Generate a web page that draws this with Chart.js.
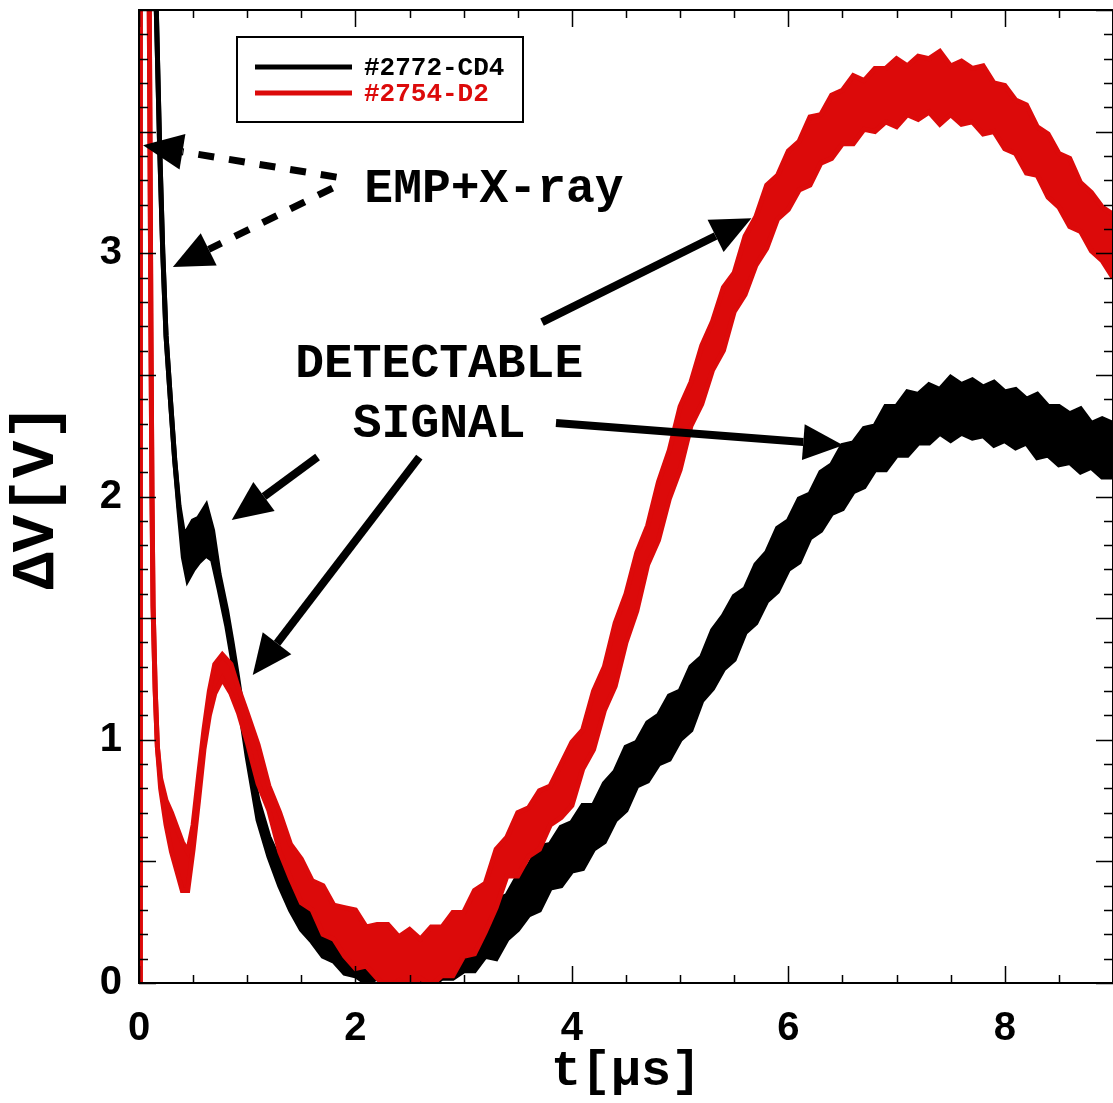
<!DOCTYPE html>
<html>
<head>
<meta charset="utf-8">
<script src="https://cdn.jsdelivr.net/npm/chart.js@4.4.1/dist/chart.umd.min.js"></script>
<style>
html, body { margin: 0; padding: 0; background: #fff; }
</style>
</head>
<body>
<canvas id="scopeChart" width="1113" height="1103"></canvas>
<script>
// values (t in us, dV in V)
const seriesNames = ['#2772-CD4', '#2754-D2'];
const xTickLabels = [0, 2, 4, 6, 8];
const yTickLabels = [0, 1, 2, 3];

const redTime = [0, 0.01, 0.012, 0.09, 0.1, 0.11, 0.12, 0.13, 0.15, 0.17, 0.2, 0.25, 0.3, 0.35, 0.4, 0.45, 0.5, 0.55, 0.6, 0.65, 0.7, 0.77, 0.85, 0.92,
  1.0, 1.1, 1.2, 1.3, 1.4, 1.5, 1.6, 1.7, 1.8, 1.9,
  2.0, 2.1, 2.2, 2.3, 2.4, 2.5, 2.6, 2.7, 2.8, 2.9,
  3.0, 3.1, 3.2, 3.3, 3.4, 3.5, 3.6, 3.7, 3.8, 3.9,
  4.0, 4.1, 4.2, 4.3, 4.4, 4.5, 4.6, 4.7, 4.8, 4.9,
  5.0, 5.1, 5.2, 5.3, 5.4, 5.5, 5.6, 5.7, 5.8, 5.9,
  6.0, 6.1, 6.2, 6.3, 6.4, 6.5, 6.6, 6.7, 6.8, 6.9,
  7.0, 7.1, 7.2, 7.3, 7.4, 7.5, 7.6, 7.7, 7.8, 7.9,
  8.0, 8.1, 8.2, 8.3, 8.4, 8.5, 8.6, 8.7, 8.8, 8.9, 9.0];
const redLevel = [0, 0, 4.4, 4.4, 3.6, 2.7, 2.0, 1.55, 1.2, 0.97, 0.82, 0.7, 0.62, 0.55, 0.48, 0.46, 0.6, 0.8, 1.0, 1.15, 1.25, 1.3, 1.25, 1.16,
  1.05, 0.9, 0.76, 0.62, 0.5, 0.42, 0.36, 0.3, 0.25, 0.21,
  0.18, 0.15, 0.13, 0.11, 0.1, 0.1, 0.1, 0.11, 0.13, 0.16,
  0.2, 0.25, 0.31, 0.43, 0.52, 0.57, 0.62, 0.67, 0.73, 0.79,
  0.86, 0.96, 1.08, 1.21, 1.35, 1.5, 1.65, 1.8, 1.94, 2.09,
  2.24, 2.38, 2.5, 2.62, 2.73, 2.84, 2.95, 3.05, 3.15, 3.23,
  3.3, 3.36, 3.42, 3.47, 3.52, 3.56, 3.59, 3.61, 3.63, 3.65,
  3.66, 3.67, 3.68, 3.69, 3.68, 3.67, 3.66, 3.65, 3.63, 3.6,
  3.56, 3.52, 3.47, 3.42, 3.36, 3.3, 3.25, 3.19, 3.13, 3.08, 3.03];
// half height of the noise band
const redNoise = [0, 0, 0, 0, 0, 0, 0, 0, 0, 0, 0.02, 0.05, 0.08, 0.09, 0.1, 0.08, 0.05, 0.05, 0.04, 0.05, 0.06, 0.05, 0.06, 0.05,
  0.06, 0.08, 0.05, 0.08, 0.07, 0.09, 0.06, 0.1, 0.07, 0.1,
  0.12, 0.08, 0.11, 0.13, 0.09, 0.12, 0.08, 0.12, 0.1, 0.13,
  0.09, 0.13, 0.1, 0.12, 0.08, 0.13, 0.1, 0.12, 0.08, 0.11,
  0.13, 0.08, 0.12, 0.09, 0.13, 0.1, 0.12, 0.08, 0.12, 0.1,
  0.13, 0.09, 0.12, 0.1, 0.13, 0.08, 0.12, 0.1, 0.13, 0.09,
  0.12, 0.1, 0.14, 0.1, 0.13, 0.11, 0.14, 0.1, 0.13, 0.11,
  0.14, 0.1, 0.13, 0.11, 0.15, 0.1, 0.13, 0.11, 0.14, 0.1,
  0.13, 0.11, 0.14, 0.1, 0.13, 0.11, 0.14, 0.1, 0.12, 0.11, 0.13];

const blackTime = [0.14, 0.16, 0.19, 0.22, 0.25, 0.29, 0.33, 0.37, 0.41, 0.45, 0.5, 0.55, 0.62, 0.68, 0.74, 0.81, 0.86, 0.91, 0.96, 1.0, 1.05, 1.1,
  1.2, 1.3, 1.4, 1.5, 1.6, 1.7, 1.8, 1.9,
  2.0, 2.1, 2.2, 2.3, 2.4, 2.5, 2.6, 2.7, 2.8, 2.9,
  3.0, 3.1, 3.2, 3.3, 3.4, 3.5, 3.6, 3.7, 3.8, 3.9,
  4.0, 4.1, 4.2, 4.3, 4.4, 4.5, 4.6, 4.7, 4.8, 4.9,
  5.0, 5.1, 5.2, 5.3, 5.4, 5.5, 5.6, 5.7, 5.8, 5.9,
  6.0, 6.1, 6.2, 6.3, 6.4, 6.5, 6.6, 6.7, 6.8, 6.9,
  7.0, 7.1, 7.2, 7.3, 7.4, 7.5, 7.6, 7.7, 7.8, 7.9,
  8.0, 8.1, 8.2, 8.3, 8.4, 8.5, 8.6, 8.7, 8.8, 8.9, 9.0];
const blackLevel = [4.4, 4.0, 3.45, 3.0, 2.66, 2.4, 2.15, 1.95, 1.8, 1.76, 1.8, 1.82, 1.86, 1.8, 1.65, 1.5, 1.37, 1.23, 1.08, 0.96, 0.83, 0.71,
  0.56, 0.45, 0.36, 0.29, 0.23, 0.19, 0.16, 0.13,
  0.11, 0.1, 0.09, 0.08, 0.08, 0.08, 0.08, 0.09, 0.1, 0.12,
  0.14, 0.16, 0.19, 0.22, 0.27, 0.33, 0.38, 0.43, 0.48, 0.52,
  0.56, 0.6, 0.64, 0.7, 0.77, 0.84, 0.9, 0.95, 1.0, 1.05,
  1.1, 1.17, 1.25, 1.33, 1.4, 1.46, 1.53, 1.6, 1.67, 1.74,
  1.8, 1.86, 1.92, 1.98, 2.03, 2.08, 2.12, 2.16, 2.2, 2.24,
  2.27, 2.3, 2.32, 2.34, 2.35, 2.36, 2.36, 2.36, 2.35, 2.34,
  2.33, 2.32, 2.31, 2.29, 2.27, 2.25, 2.24, 2.23, 2.21, 2.2, 2.19];
const blackNoise = [0, 0, 0, 0, 0, 0, 0, 0.01, 0.05, 0.1, 0.1, 0.09, 0.1, 0.06, 0.03, 0.03, 0.03, 0.03, 0.03, 0.03, 0.03, 0.04,
  0.04, 0.05, 0.06, 0.07, 0.06, 0.08, 0.07, 0.09,
  0.08, 0.1, 0.07, 0.1, 0.09, 0.11, 0.08, 0.1, 0.08, 0.1,
  0.09, 0.11, 0.08, 0.12, 0.09, 0.11, 0.1, 0.13, 0.09, 0.12,
  0.1, 0.13, 0.09, 0.12, 0.1, 0.13, 0.09, 0.12, 0.1, 0.13,
  0.1, 0.13, 0.09, 0.12, 0.11, 0.13, 0.09, 0.12, 0.1, 0.13,
  0.1, 0.13, 0.09, 0.12, 0.1, 0.13, 0.1, 0.12, 0.09, 0.13,
  0.1, 0.13, 0.1, 0.12, 0.09, 0.13, 0.1, 0.12, 0.1, 0.13,
  0.1, 0.12, 0.09, 0.13, 0.1, 0.12, 0.1, 0.13, 0.09, 0.12, 0.11];

const RED = '#dc0a0a';
const BLACK = '#000000';

// lower / upper edge of a noisy trace
function band(times, level, noise, sign) {
  return times.map((t, i) => ({ x: t, y: level[i] + sign * noise[i] }));
}

function traceSets(times, level, noise, color) {
  const common = { borderColor: color, backgroundColor: color, borderWidth: 5, pointRadius: 0, borderJoinStyle: 'miter' };
  return [
    Object.assign({ data: band(times, level, noise, -1), fill: false }, common),
    Object.assign({ data: band(times, level, noise, 1), fill: '-1' }, common)
  ];
}

// frame, inward ticks, arrows, labels and legend box
const decorations = {
  id: 'decorations',
  afterDatasetsDraw(chart) {
    const { ctx, chartArea: a, scales: { x, y } } = chart;
    ctx.save();
    ctx.strokeStyle = '#000';
    ctx.lineWidth = 2;
    ctx.strokeRect(a.left, a.top, a.right - a.left, a.bottom - a.top);

    ctx.lineWidth = 1.5;
    ctx.beginPath();
    for (let k = 0; k <= 18; k++) {
      const v = k * 0.5;
      const px = Math.round(x.getPixelForValue(v)) + 0.5;
      const len = k % 4 === 0 ? 17 : 8;
      ctx.moveTo(px, a.bottom); ctx.lineTo(px, a.bottom - len);
      ctx.moveTo(px, a.top); ctx.lineTo(px, a.top + len);
    }
    for (let k = 0; k <= 40; k++) {
      const v = k * 0.1;
      const py = Math.round(y.getPixelForValue(v)) + 0.5;
      const len = k % 5 === 0 ? 17 : 9;
      ctx.moveTo(a.left, py); ctx.lineTo(a.left + len, py);
      ctx.moveTo(a.right, py); ctx.lineTo(a.right - len, py);
    }
    ctx.stroke();

    const arrows = [
      { from: [1.825, 3.313], to: [0.037, 3.444], dashed: true },
      { from: [1.788, 3.268], to: [0.313, 2.943], dashed: true },
      { from: [3.724, 2.717], to: [5.659, 3.144] },
      { from: [3.853, 2.302], to: [6.507, 2.211] },
      { from: [1.650, 2.162], to: [0.857, 1.903] },
      { from: [2.590, 2.162], to: [1.051, 1.266] }
    ];
    ctx.fillStyle = '#000';
    arrows.forEach(ar => {
      const x1 = x.getPixelForValue(ar.from[0]), y1 = y.getPixelForValue(ar.from[1]);
      const x2 = x.getPixelForValue(ar.to[0]), y2 = y.getPixelForValue(ar.to[1]);
      const ang = Math.atan2(y2 - y1, x2 - x1);
      const headLen = 40, headHalf = 18;
      const bx = x2 - headLen * Math.cos(ang), by = y2 - headLen * Math.sin(ang);
      ctx.lineWidth = ar.dashed ? 7 : 8;
      ctx.lineCap = 'butt';
      ctx.setLineDash(ar.dashed ? [16, 15] : []);
      ctx.beginPath(); ctx.moveTo(x1, y1); ctx.lineTo(bx, by); ctx.stroke();
      ctx.setLineDash([]);
      ctx.beginPath();
      ctx.moveTo(x2, y2);
      ctx.lineTo(bx + headHalf * Math.sin(ang), by - headHalf * Math.cos(ang));
      ctx.lineTo(bx - headHalf * Math.sin(ang), by + headHalf * Math.cos(ang));
      ctx.closePath(); ctx.fill();
    });

    ctx.font = 'bold 48px "Liberation Mono", "DejaVu Sans Mono", monospace';
    ctx.textAlign = 'center';
    ctx.textBaseline = 'middle';
    ctx.fillText('EMP+X-ray', x.getPixelForValue(3.28), y.getPixelForValue(3.26));
    ctx.fillText('DETECTABLE', x.getPixelForValue(2.774), y.getPixelForValue(2.54));
    ctx.fillText('SIGNAL', x.getPixelForValue(2.774), y.getPixelForValue(2.293));

    // legend
    const lx = a.left + 98, ly = a.top + 27;
    ctx.fillStyle = '#fff';
    ctx.fillRect(lx, ly, 286, 85);
    ctx.lineWidth = 2;
    ctx.strokeStyle = '#000';
    ctx.strokeRect(lx, ly, 286, 85);
    ctx.font = 'bold 26px "Liberation Mono", "DejaVu Sans Mono", monospace';
    ctx.textAlign = 'left';
    [BLACK, RED].forEach((c, i) => {
      const yy = ly + 30 + i * 26;
      ctx.strokeStyle = c;
      ctx.lineWidth = 5;
      ctx.beginPath(); ctx.moveTo(lx + 18, yy); ctx.lineTo(lx + 115, yy); ctx.stroke();
      ctx.fillStyle = c;
      ctx.fillText(seriesNames[i], lx + 127, yy + 1);
    });
    ctx.restore();
  }
};

const tickFont = { family: '"Liberation Sans", Arial, sans-serif', weight: 'bold', size: 40 };
const titleFont = { family: '"Liberation Mono", "DejaVu Sans Mono", monospace', weight: 'bold' };

new Chart(document.getElementById('scopeChart').getContext('2d'), {
  type: 'line',
  data: {
    datasets: traceSets(redTime, redLevel, redNoise, RED).concat(traceSets(blackTime, blackLevel, blackNoise, BLACK))
  },
  options: {
    responsive: false,
    animation: false,
    layout: { padding: { top: 10, right: 0, left: 0, bottom: 0 } },
    plugins: { legend: { display: false }, tooltip: { enabled: false } },
    scales: {
      x: {
        type: 'linear', min: 0, max: 9,
        afterBuildTicks: s => { s.ticks = xTickLabels.map(v => ({ value: v })); },
        afterFit: s => { s.height = 120; s.paddingLeft = 0; s.paddingRight = 0; },
        ticks: { font: tickFont, color: '#000', padding: 22, maxRotation: 0, autoSkip: false },
        grid: { display: false, drawTicks: false },
        border: { display: false },
        title: { display: true, text: 't[μs]', color: '#000', font: Object.assign({ size: 50 }, titleFont), padding: { top: 0, bottom: 1 } }
      },
      y: {
        type: 'linear', min: 0, max: 4,
        afterBuildTicks: s => { s.ticks = yTickLabels.map(v => ({ value: v })); },
        afterFit: s => { s.width = 139; s.paddingTop = 0; s.paddingBottom = 0; },
        ticks: { font: tickFont, color: '#000', padding: 17, autoSkip: false },
        grid: { display: false, drawTicks: false },
        border: { display: false },
        title: { display: true, text: 'ΔV[V]', color: '#000', font: Object.assign({ size: 62 }, titleFont), padding: { top: 0, bottom: 0 } }
      }
    }
  },
  plugins: [decorations]
});
</script>
</body>
</html>
